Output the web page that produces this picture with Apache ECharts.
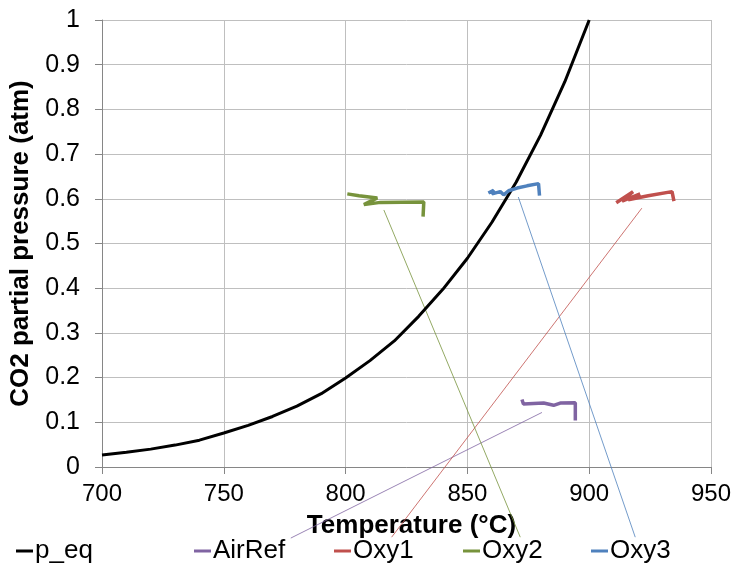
<!DOCTYPE html>
<html><head><meta charset="utf-8">
<script src="https://cdn.jsdelivr.net/npm/echarts@6/dist/echarts.min.js"></script>
<style>html,body{margin:0;padding:0;background:#fff}#c{width:746px;height:577px}</style>
</head><body><div id="c"></div>
<script>
const peqT = [700,710,720,730,740,750,760,770,780,790,800,810,820,830,840,850,860,870,880,890,900];
const peqP = [0.027,0.033,0.040,0.049,0.060,0.076,0.093,0.113,0.136,0.164,0.199,0.238,0.282,0.337,0.398,0.467,0.547,0.637,0.742,0.862,1.0];

const airT = [872.4,873.0,881.3,885.4,888.1,894.3,894.3];
const airP = [0.151,0.141,0.143,0.138,0.143,0.144,0.104];

const oxy1T = [911.1,918.0,913.5,920.9,916.0,924.2,934.0,934.8];
const oxy1P = [0.591,0.616,0.595,0.611,0.598,0.607,0.616,0.595];

const oxy2T = [800.7,805.5,813.0,807.5,808.2,814.3,832.1,831.8];
const oxy2P = [0.611,0.607,0.602,0.587,0.583,0.592,0.593,0.560];

const oxy3T = [858.6,860.8,860.1,863.5,864.9,866.9,870.4,874.5,879.2,879.6];
const oxy3P = [0.613,0.619,0.611,0.616,0.609,0.618,0.624,0.629,0.634,0.607];

// thin leader lines: [startT, startP, endT, endP]
const leaderAir  = [880.6, 0.122, 777.5, -0.159];
const leaderOxy1 = [921.6, 0.579, 818.9, -0.157];
const leaderOxy2 = [815.7, 0.575, 871.7, -0.157];
const leaderOxy3 = [870.9, 0.604, 918.9, -0.157];

const xTicks = [700,750,800,850,900,950];
const yTicks = [0,0.1,0.2,0.3,0.4,0.5,0.6,0.7,0.8,0.9,1];

const names = ['p_eq','AirRef','Oxy1','Oxy2','Oxy3'];
const colors = ['#000000','#8064a2','#c0504d','#77933c','#4f81bd'];

const zip = (a,b)=>a.map((v,i)=>[v,b[i]]);
const FONT = 'Liberation Sans, Arial, sans-serif';

function main(name, T, P, color, w){
  return {name, type:'line', data: zip(T,P), symbol:'none', lineStyle:{color, width:w}, itemStyle:{color}, z:3, clip:false, animation:false};
}
function leader(L, color){
  return {name:'', type:'line', data:[[L[0],L[1]],[L[2],L[3]]], symbol:'none', lineStyle:{color, width:0.8}, clip:false, silent:true, z:2, animation:false};
}

const legendLefts = [11, 189, 329, 458, 586];
const legends = names.map((n,i)=>({
  data:[n], left: legendLefts[i], top: 533, icon:'rect', itemWidth:17, itemHeight:3, itemGap:0,
  textStyle:{fontFamily:FONT, fontSize:26, color:'#000', padding:[0,0,0,-3]}
}));

const chart = echarts.init(document.getElementById('c'), null, {renderer:'canvas'});
chart.setOption({
  animation:false,
  color: colors,
  grid:{left:101, right:35, top:20, bottom:110, containLabel:false},
  legend: legends,
  xAxis:{
    type:'value', min:700, max:950, interval:50,
    name:'Temperature (°C)', nameLocation:'middle', nameGap:46,
    nameTextStyle:{fontFamily:FONT, fontWeight:'bold', fontSize:26, color:'#000', padding:[0,0,0,10]},
    axisLine:{lineStyle:{color:'#868686', width:1}},
    axisTick:{show:true, length:7, lineStyle:{color:'#868686'}},
    axisLabel:{fontFamily:FONT, fontSize:24, color:'#000', margin:15},
    splitLine:{show:true, lineStyle:{color:'#bfbfbf', width:1}}
  },
  yAxis:{
    type:'value', min:0, max:1, interval:0.1,
    name:'CO2 partial pressure (atm)', nameLocation:'middle', nameGap:68,
    nameTextStyle:{fontFamily:FONT, fontWeight:'bold', fontSize:26, color:'#000'},
    axisLine:{show:true, lineStyle:{color:'#868686', width:1}},
    axisTick:{show:true, length:7, lineStyle:{color:'#868686'}},
    axisLabel:{fontFamily:FONT, fontSize:25, color:'#000', margin:22, formatter:v=>String(Math.round(v*10)/10)},
    splitLine:{show:true, lineStyle:{color:'#bfbfbf', width:1}}
  },
  series:[
    main('p_eq', peqT, peqP, colors[0], 3),
    main('AirRef', airT, airP, colors[1], 3.5),
    main('Oxy1', oxy1T, oxy1P, colors[2], 3.5),
    main('Oxy2', oxy2T, oxy2P, colors[3], 3.5),
    main('Oxy3', oxy3T, oxy3P, colors[4], 3.5),
    leader(leaderAir, colors[1]),
    leader(leaderOxy1, colors[2]),
    leader(leaderOxy2, colors[3]),
    leader(leaderOxy3, colors[4])
  ]
});
</script></body></html>
